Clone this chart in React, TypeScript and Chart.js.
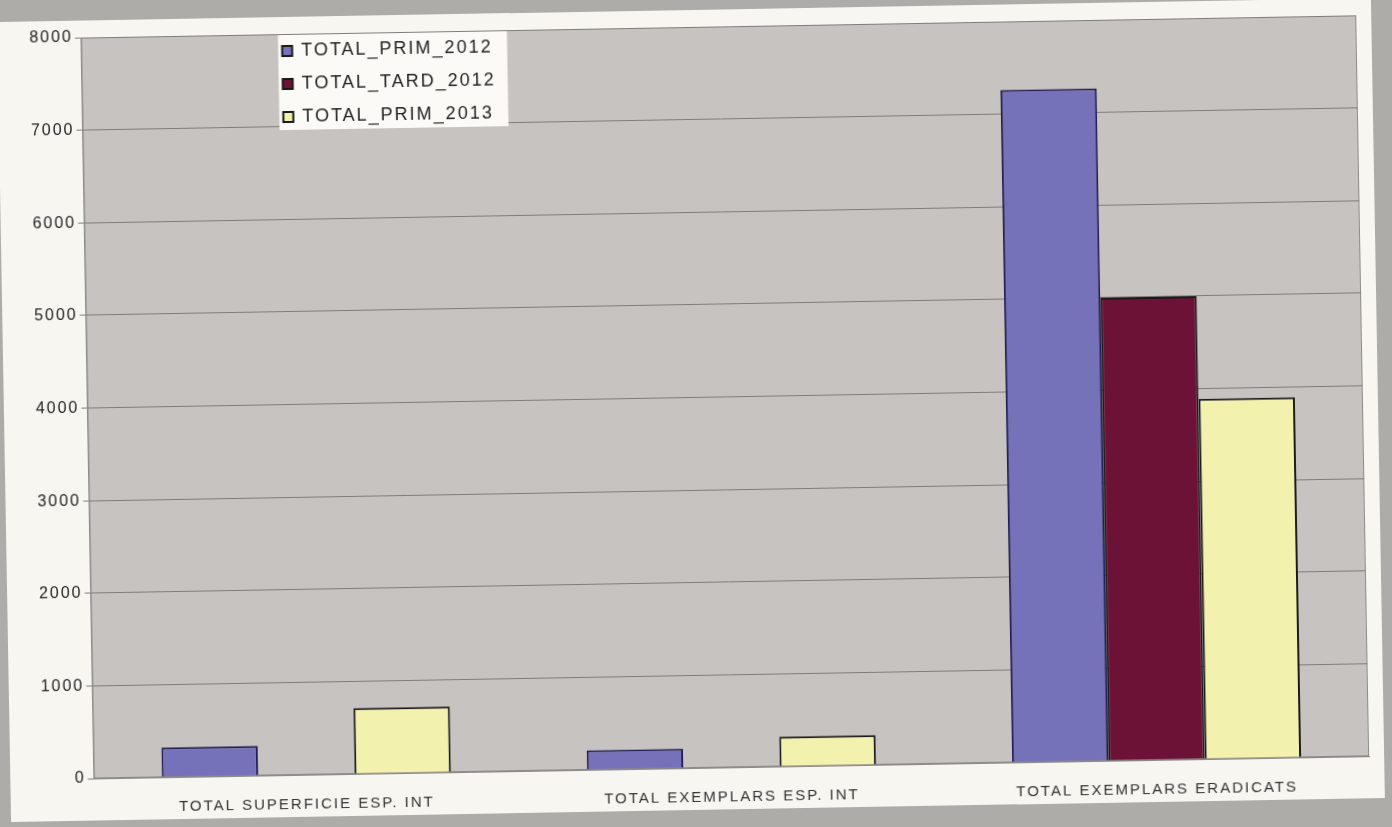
import React, { useEffect, useRef } from "react";
import { Chart, registerables } from "chart.js";

Chart.register(...registerables);

const categories = [
  "TOTAL SUPERFICIE ESP. INT",
  "TOTAL EXEMPLARS ESP. INT",
  "TOTAL EXEMPLARS ERADICATS",
];
const seriesNames = ["TOTAL_PRIM_2012", "TOTAL_TARD_2012", "TOTAL_PRIM_2013"];
const prim2012 = [320, 210, 7260];
const tard2012 = [0, 0, 5000];
const prim2013 = [710, 320, 3890];
const yTicks = [0, 1000, 2000, 3000, 4000, 5000, 6000, 7000, 8000];

const FONT = "'Liberation Sans', Arial, sans-serif";

const plotBg = {
  id: "plotBg",
  beforeDraw(chart: any) {
    const { ctx, chartArea: a } = chart;
    (ctx as any).letterSpacing = "2px";
    ctx.save();
    ctx.fillStyle = "#c7c3c0";
    ctx.fillRect(a.left, a.top, a.right - a.left, a.bottom - a.top);
    ctx.strokeStyle = "#8e8c8a";
    ctx.lineWidth = 1;
    ctx.strokeRect(a.left + 0.5, a.top + 0.5, a.right - a.left - 1, a.bottom - a.top - 1);
    ctx.restore();
  },
};

const boxLegend = {
  id: "boxLegend",
  afterDraw(chart: any) {
    const { ctx, chartArea: a } = chart;
    const x = a.left + 197;
    const y = a.top + 1;
    const w = 229;
    const h = 95;
    ctx.save();
    ctx.fillStyle = "#fbfaf6";
    ctx.fillRect(x, y, w, h);
    chart.data.datasets.forEach((ds: any, i: number) => {
      const cy = y + 16 + i * 33;
      ctx.fillStyle = ds.backgroundColor;
      ctx.fillRect(x + 4, cy - 5, 10, 10);
      ctx.strokeStyle = "#1a1a1a";
      ctx.lineWidth = 2;
      ctx.strokeRect(x + 4, cy - 5, 10, 10);
      ctx.fillStyle = "#222";
      ctx.font = `18px ${FONT}`;
      (ctx as any).letterSpacing = "2px";
      ctx.textBaseline = "middle";
      ctx.textAlign = "left";
      ctx.fillText(ds.label, x + 23, cy);
    });
    ctx.restore();
  },
};

export default function App() {
  const ref = useRef<HTMLCanvasElement | null>(null);

  useEffect(() => {
    document.body.style.margin = "0";
    document.body.style.overflow = "hidden";
    if (!ref.current) return;
    const chart = new Chart(ref.current, {
      type: "bar",
      data: {
        labels: categories,
        datasets: [
          {
            label: seriesNames[0],
            data: prim2012,
            backgroundColor: "#7672b9",
            borderColor: "#1f1f55",
            borderWidth: 2,
            borderSkipped: "bottom",
          },
          {
            label: seriesNames[1],
            data: tard2012,
            backgroundColor: "#6b1236",
            borderColor: "#1a1a1a",
            borderWidth: 2,
            borderSkipped: "bottom",
          },
          {
            label: seriesNames[2],
            data: prim2013,
            backgroundColor: "#f2f1ad",
            borderColor: "#1a1a1a",
            borderWidth: 2,
            borderSkipped: "bottom",
          },
        ],
      },
      options: {
        animation: false,
        responsive: true,
        maintainAspectRatio: false,
        layout: { padding: { left: 0, right: 15, top: 17, bottom: 0 } },
        datasets: {
          bar: { categoryPercentage: 0.68, barPercentage: 1.0 },
        },
        plugins: {
          legend: { display: false },
          tooltip: { enabled: false },
        },
        scales: {
          x: {
            grid: { display: false },
            border: { display: true, color: "#8e8c8a" },
            ticks: {
              color: "#333",
              font: { family: FONT, size: 15 },
              padding: 13,
              maxRotation: 0,
            },
            afterFit(scale: any) {
              scale.height = 42;
            },
          },
          y: {
            min: 0,
            max: 8000,
            afterBuildTicks(scale: any) {
              scale.ticks = yTicks.map((v) => ({ value: v }));
            },
            grid: {
              color: "#7f7d7b",
              lineWidth: 1,
              drawTicks: true,
              tickLength: 6,
            },
            border: { display: true, color: "#8e8c8a" },
            ticks: {
              color: "#222",
              font: { family: FONT, size: 16 },
              padding: 2,
              callback: (v: any) => String(v),
            },
            afterFit(scale: any) {
              scale.width = 83.5;
            },
          },
        },
      },
      plugins: [plotBg, boxLegend],
    });
    return () => chart.destroy();
  }, []);

  return (
    <div
      style={{
        position: "relative",
        width: 1392,
        height: 827,
        overflow: "hidden",
        background: "#aeaca9",
      }}
    >
      <div
        style={{
          position: "absolute",
          left: 4,
          top: 10,
          width: 1374,
          height: 800,
          background: "#f7f6f1",
          transform: "rotate(-1deg)",
          transformOrigin: "50% 50%",
        }}
      >
        <canvas ref={ref} />
      </div>
    </div>
  );
}
